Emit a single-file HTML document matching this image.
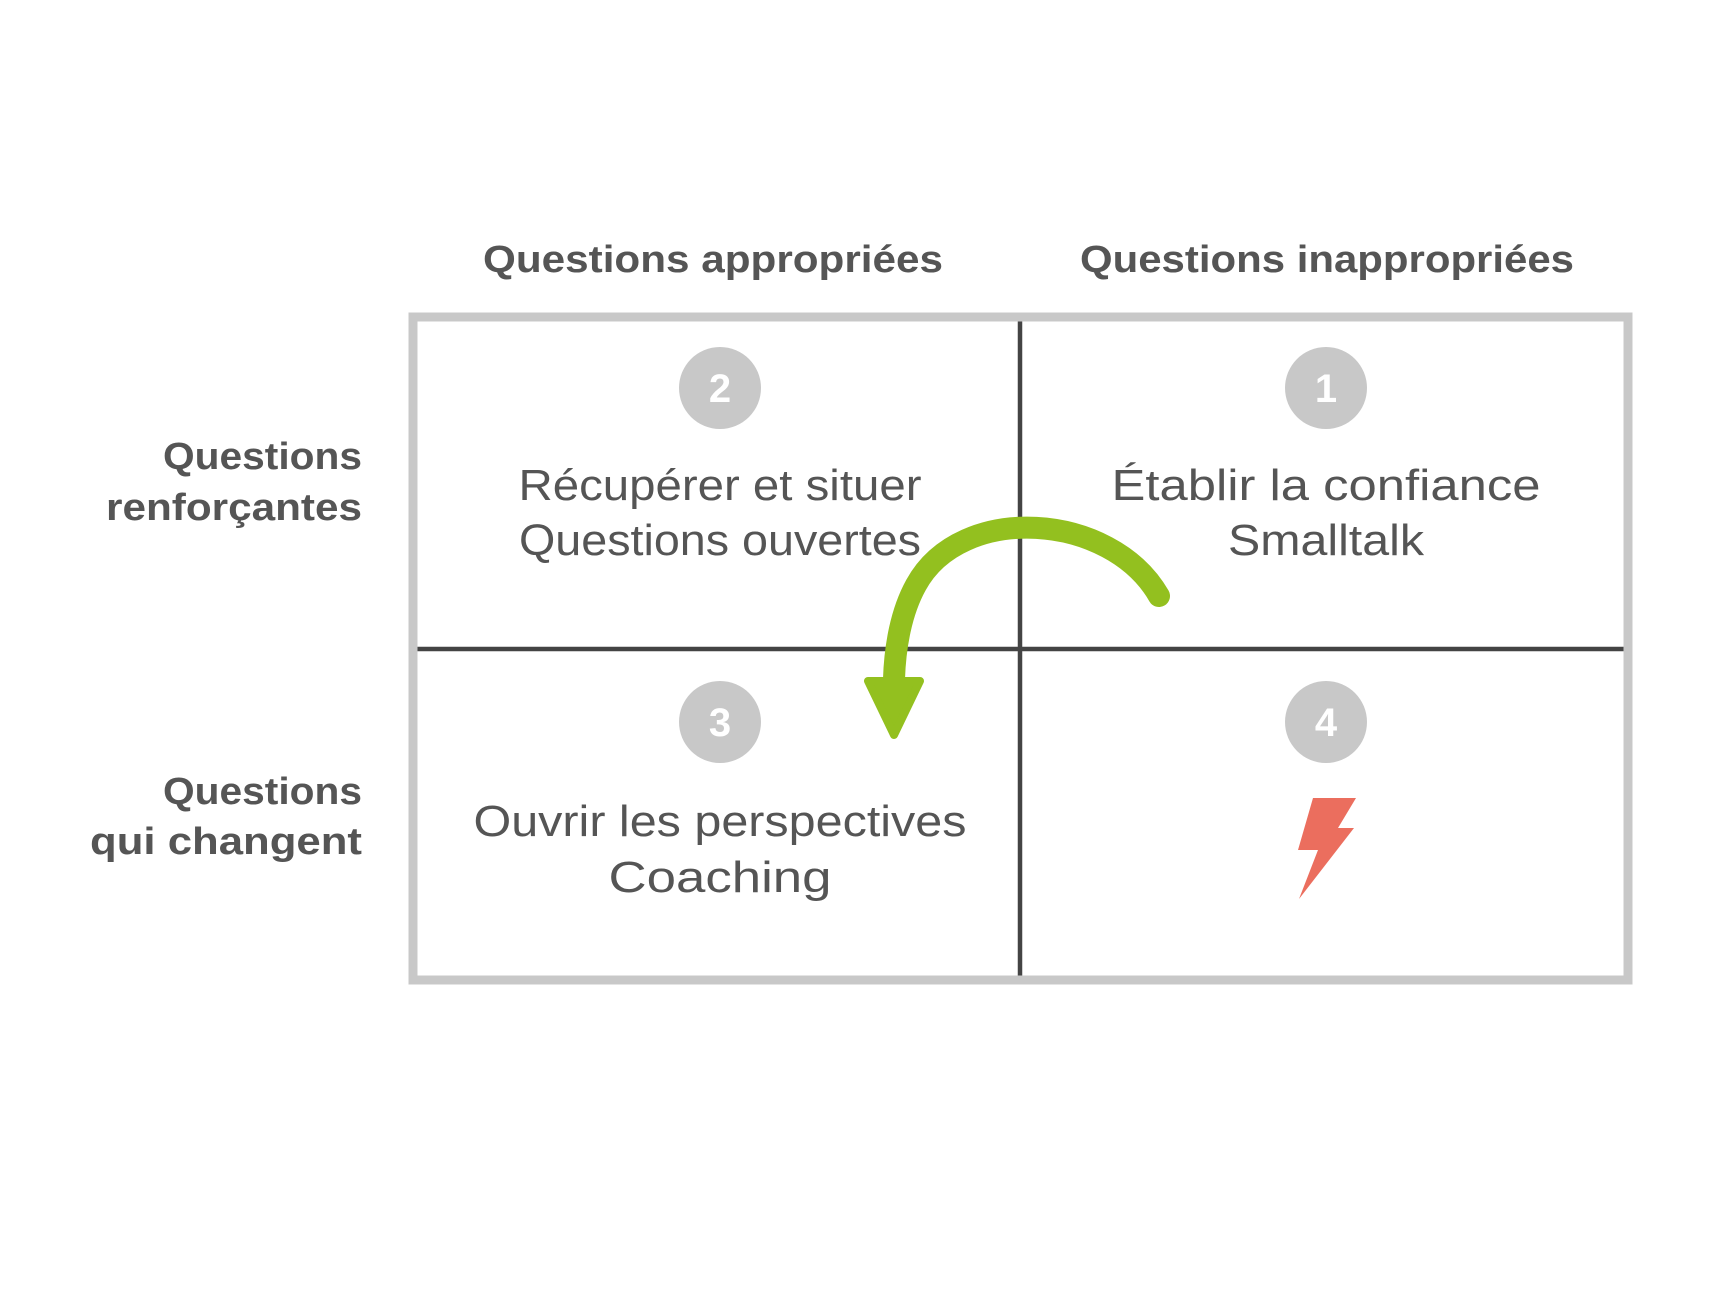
<!DOCTYPE html>
<html><head><meta charset="utf-8"><style>
html,body{margin:0;padding:0;background:#fff}
</style></head><body>
<svg width="1735" height="1299" viewBox="0 0 1735 1299" xmlns="http://www.w3.org/2000/svg" font-family="Liberation Sans, sans-serif">
<rect x="0" y="0" width="1735" height="1299" fill="#fff"/>
<g transform="translate(-4,-3)">
<g fill="#555" font-weight="bold" font-size="38" lengthAdjust="spacingAndGlyphs">
<text x="717" y="275" text-anchor="middle" textLength="460" lengthAdjust="spacingAndGlyphs">Questions appropriées</text>
<text x="1331" y="275" text-anchor="middle" textLength="494" lengthAdjust="spacingAndGlyphs">Questions inappropriées</text>
<text x="366" y="472" text-anchor="end" textLength="199" lengthAdjust="spacingAndGlyphs">Questions</text>
<text x="366" y="523" text-anchor="end" textLength="256" lengthAdjust="spacingAndGlyphs">renforçantes</text>
<text x="366" y="807" text-anchor="end" textLength="199" lengthAdjust="spacingAndGlyphs">Questions</text>
<text x="366" y="857" text-anchor="end" textLength="272" lengthAdjust="spacingAndGlyphs">qui changent</text>
</g>
<line x1="1024" y1="320" x2="1024" y2="980" stroke="#444" stroke-width="4.5"/>
<line x1="418" y1="652" x2="1632" y2="652" stroke="#444" stroke-width="4.5"/>
<rect x="417" y="320" width="1215" height="663" fill="none" stroke="#c8c8c8" stroke-width="9"/>
<g fill="#c8c8c8">
<circle cx="724" cy="391" r="41"/><circle cx="1330" cy="391" r="41"/>
<circle cx="724" cy="725" r="41"/><circle cx="1330" cy="725" r="41"/>
</g>
<g fill="#fff" font-weight="bold" font-size="40" text-anchor="middle">
<text x="724" y="405">2</text><text x="1330" y="405">1</text>
<text x="724" y="739">3</text><text x="1330" y="739">4</text>
</g>
<g fill="#555" font-size="44" text-anchor="middle">
<text x="724" y="503" textLength="403" lengthAdjust="spacingAndGlyphs">Récupérer et situer</text>
<text x="724" y="558" textLength="402" lengthAdjust="spacingAndGlyphs">Questions ouvertes</text>
<text x="1330" y="503" textLength="429" lengthAdjust="spacingAndGlyphs">Établir la confiance</text>
<text x="1330" y="558" textLength="196" lengthAdjust="spacingAndGlyphs">Smalltalk</text>
<text x="724" y="839" textLength="493" lengthAdjust="spacingAndGlyphs">Ouvrir les perspectives</text>
<text x="724" y="895" textLength="223" lengthAdjust="spacingAndGlyphs">Coaching</text>
</g>
<polygon points="1317,801 1360,801 1342,831 1358,831 1303,902 1322,853 1302,853" fill="#eb6e5e"/>
<path d="M1163,599 C1115,515 965,505 920,588 C905,615 899,650 898,682" fill="none" stroke="#93c01f" stroke-width="22" stroke-linecap="round"/>
<polygon points="872,684 924,684 898,738" fill="#93c01f" stroke="#93c01f" stroke-width="8" stroke-linejoin="round"/>
</g>
</svg>
</body></html>
